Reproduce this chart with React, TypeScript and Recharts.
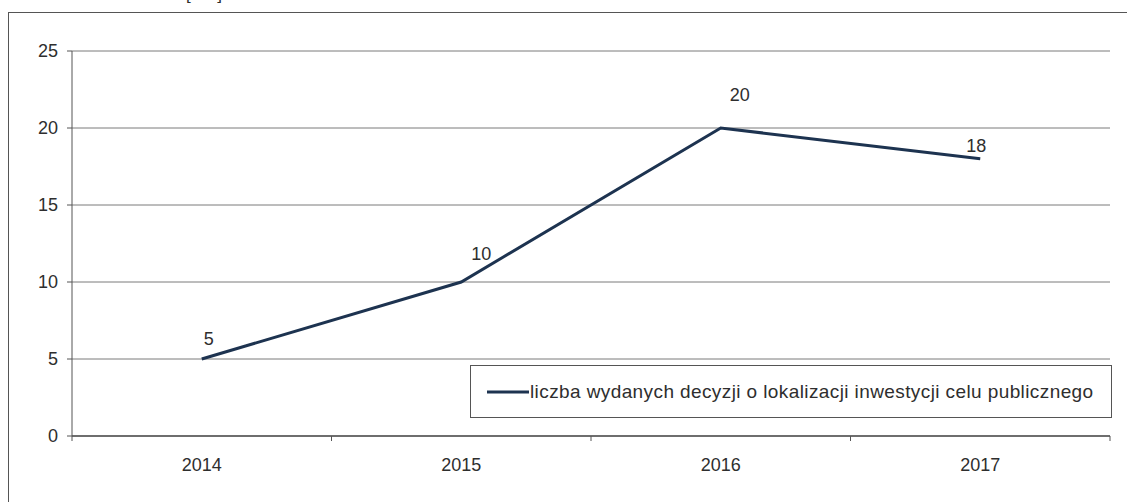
import React from 'react';
import { LineChart, Line, XAxis, YAxis, CartesianGrid, LabelList, Legend } from 'recharts';

const years = ['2014', '2015', '2016', '2017'];
const decisions = [5, 10, 20, 18];
const yTicks = [0, 5, 10, 15, 20, 25];
const seriesName = 'liczba wydanych decyzji o lokalizacji inwestycji celu publicznego';
const unitLabel = '[szt.]';

// label nudges (style)
const labelDx = [7, 20, 19, -4];
const labelDy = [-20, -28, -33, -13];

const data = years.map((y, i) => ({ year: y, value: decisions[i] }));

const FONT = 'Arial, "Liberation Sans", sans-serif';
const TEXT = '#2e2e2e';
const LINE = '#1d3350';
const X_TICK_SIZE = 6;
const X_TICK_MARGIN = 16;
const FS = 18;

const XTick = (props: any) => {
  const { x, y, payload, index, visibleTicksCount } = props;
  const half = payload && typeof payload.offset === 'number' ? payload.offset : 0;
  const axisY = y - X_TICK_SIZE - X_TICK_MARGIN;
  const last = index === (visibleTicksCount ?? 4) - 1;
  return (
    <g>
      <line x1={x - half} x2={x - half} y1={axisY} y2={axisY + 5} stroke="#555" strokeWidth={1} />
      {last && <line x1={x + half} x2={x + half} y1={axisY} y2={axisY + 5} stroke="#555" strokeWidth={1} />}
      <text x={x} y={y} dy="0.71em" textAnchor="middle" fontFamily={FONT} fontSize={FS} fill={TEXT}>
        {payload.value}
      </text>
    </g>
  );
};

const PointLabel = (props: any) => {
  const { x, y, value, index } = props;
  return (
    <text
      x={x + (labelDx[index] ?? 0)}
      y={y + (labelDy[index] ?? -15)}
      textAnchor="middle"
      dominantBaseline="central"
      fontFamily={FONT}
      fontSize={FS}
      fill={TEXT}
    >
      {value}
    </text>
  );
};

const LegendBox = (props: any) => {
  const item = props.payload && props.payload[0];
  return (
    <div
      style={{
        boxSizing: 'border-box',
        width: 642,
        height: 53,
        border: '1px solid #555',
        background: '#fff',
        display: 'flex',
        alignItems: 'center',
        paddingLeft: 16,
        fontFamily: FONT,
        fontSize: 19,
        letterSpacing: 0.4,
        color: TEXT,
        whiteSpace: 'nowrap',
      }}
    >
      <svg width={42} height={6} style={{ marginRight: 1 }}>
        <line x1={0} x2={42} y1={3} y2={3} stroke={item ? item.color : LINE} strokeWidth={3} />
      </svg>
      <span>{item ? item.value : seriesName}</span>
    </div>
  );
};

export default function App() {
  return (
    <div style={{ position: 'fixed', left: 0, top: 0, width: 1127, height: 502, overflow: 'hidden', background: '#fff' }}>
      <div
        style={{
          position: 'absolute',
          left: 186,
          top: -15,
          fontFamily: FONT,
          fontSize: 17,
          color: TEXT,
        }}
      >
        {unitLabel}
      </div>
      <div
        style={{
          position: 'absolute',
          left: 8,
          top: 12,
          width: 1200,
          height: 600,
          border: '1px solid #555',
          boxSizing: 'border-box',
        }}
      />
      <div style={{ position: 'absolute', left: 0, top: 0 }}>
        <LineChart width={1127} height={502} data={data} margin={{ top: 51, right: 17, bottom: 0, left: 0 }}>
          <CartesianGrid vertical={false} stroke="#7a7a7a" strokeWidth={1} />
          <XAxis
            dataKey="year"
            scale="band"
            interval={0}
            height={66}
            tickLine={false}
            tickSize={X_TICK_SIZE}
            tickMargin={X_TICK_MARGIN}
            axisLine={{ stroke: '#555', strokeWidth: 1.5 }}
            tick={<XTick />}
          />
          <YAxis
            domain={[0, 25]}
            ticks={yTicks}
            interval={0}
            width={72}
            tickSize={5}
            tickMargin={9}
            axisLine={{ stroke: '#555', strokeWidth: 1 }}
            tickLine={{ stroke: '#555' }}
            tick={{ fontFamily: FONT, fontSize: FS, fill: TEXT }}
          />
          <Legend
            layout="horizontal"
            align="center"
            verticalAlign="middle"
            content={<LegendBox />}
            wrapperStyle={{ position: 'absolute', left: 470, top: 365, width: 642, height: 53 }}
          />
          <Line
            type="linear"
            dataKey="value"
            name={seriesName}
            stroke={LINE}
            strokeWidth={3}
            dot={false}
            activeDot={false}
            isAnimationActive={false}
          >
            <LabelList dataKey="value" content={<PointLabel />} />
          </Line>
        </LineChart>
      </div>
    </div>
  );
}
